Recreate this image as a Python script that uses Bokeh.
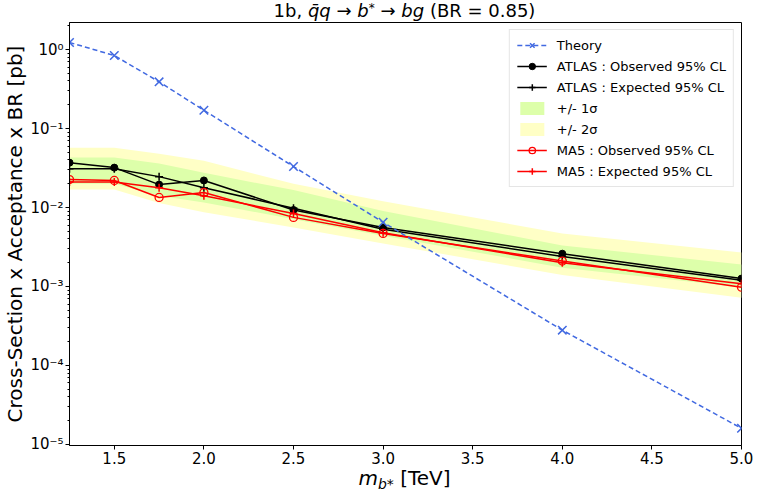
from bokeh.plotting import figure
from bokeh.models import (FixedTicker, CustomJSTickFormatter, PrintfTickFormatter,
                          Legend, LegendItem, Range1d, Div)
from bokeh.layouts import column
from bokeh.embed import file_html
from bokeh.resources import INLINE

# ---------------- data ----------------
mass = [1.25, 1.5, 1.75, 2.0, 2.5, 3.0, 4.0, 5.0]
theory = [1.23, 0.84, 0.39, 0.17, 0.033, 0.0065, 0.00028, 1.6e-5]
atlas_obs = [0.037, 0.032, 0.0195, 0.022, 0.0093, 0.0056, 0.0026, 0.00126]
atlas_exp = [0.031, 0.031, 0.0246, 0.0178, 0.0098, 0.0053, 0.0024, 0.0012]
band_up2 = [0.057, 0.057, 0.048, 0.039, 0.020, 0.0120, 0.0047, 0.0027]
band_up1 = [0.043, 0.043, 0.036, 0.0275, 0.0166, 0.0090, 0.0033, 0.0019]
band_dn1 = [0.020, 0.020, 0.0141, 0.0116, 0.0071, 0.0044, 0.00173, 0.00098]
band_dn2 = [0.0169, 0.0169, 0.0114, 0.0087, 0.0056, 0.0035, 0.0014, 0.00072]
ma5_obs = [0.0226, 0.022, 0.0134, 0.0155, 0.0075, 0.0047, 0.0021, 0.00098]
ma5_exp = [0.021, 0.021, 0.0178, 0.0141, 0.0084, 0.0048, 0.0020, 0.00108]

x_ticks = [1.5, 2.0, 2.5, 3.0, 3.5, 4.0, 4.5, 5.0]
y_ticks = [1e-5, 1e-4, 1e-3, 1e-2, 1e-1, 1.0]

legend_labels = ["Theory", "ATLAS : Observed 95% CL", "ATLAS : Expected 95% CL",
                 "+/- 1σ", "+/- 2σ", "MA5 : Observed 95% CL", "MA5 : Expected 95% CL"]

title_html = ("1b, <i>q\u0304q</i> \u2192 <i>b</i>"
              "<span style='position:relative; top:-5px; font-size:12px; line-height:0'>*</span>"
              " \u2192 <i>bg</i> (BR = 0.85)")
xlabel_html = ("<i>m</i><span style='position:relative; top:4px; font-size:14px; line-height:0'>"
               "<i>b*</i></span> [TeV]")
ylabel = "Cross-Section x Acceptance x BR [pb]"

# ---------------- layout ----------------
W, H = 758, 499
FL, FR = 68, 741          # frame left/right in page px
TITLE_H = 22              # frame top at page y=22
PLOT_H = 447              # frame bottom at page y=445 (+24 px of tick labels)
XLAB_H = H - TITLE_H - PLOT_H
FONT = "DejaVu Sans"
BLUE = "#4169E1"
GREEN = "#DDFFAA"
YELLOW = "#FFFFC6"

p = figure(width=W, height=PLOT_H, y_axis_type="log", title=None,
           x_range=Range1d(1.25, 5.0), y_range=Range1d(9.7e-6, 2.2),
           output_backend="svg", toolbar_location=None,
           min_border_left=FL, min_border_right=W - FR,
           min_border_top=0, min_border_bottom=24)
p.xgrid.visible = False
p.ygrid.visible = False
p.outline_line_color = "black"
p.outline_line_width = 1
p.background_fill_color = "white"
p.border_fill_color = "white"

# axes
xa = p.xaxis[0]
xa.ticker = FixedTicker(ticks=x_ticks)
xa.formatter = PrintfTickFormatter(format="%.1f")
xa.minor_tick_line_color = None
xa.major_tick_out = 4
xa.major_tick_in = 0
xa.major_label_standoff = 2
xa.major_label_text_font = FONT
xa.major_label_text_font_size = "15px"
xa.major_label_text_color = "black"
xa.axis_line_color = "black"
xa.major_tick_line_color = "black"

minor = [k * 10.0 ** e for e in range(-6, 1) for k in range(2, 10)]
minor = [v for v in minor if 9.7e-6 <= v <= 2.2]
ya = p.yaxis[0]
ya.ticker = FixedTicker(ticks=y_ticks, minor_ticks=minor)
ya.formatter = CustomJSTickFormatter(code="""
const e = Math.round(Math.log10(tick));
const sup = {'-':'\u207b','0':'\u2070','1':'\u00b9','2':'\u00b2','3':'\u00b3','4':'\u2074',
             '5':'\u2075','6':'\u2076','7':'\u2077','8':'\u2078','9':'\u2079'};
return '10' + String(e).split('').map(c => sup[c]).join('');
""")
ya.major_tick_out = 4
ya.major_tick_in = 0
ya.minor_tick_out = 2
ya.minor_tick_in = 0
ya.major_label_standoff = 2
ya.major_label_text_font = FONT
ya.major_label_text_font_size = "15px"
ya.major_label_text_color = "black"
ya.axis_line_color = "black"
ya.major_tick_line_color = "black"
ya.minor_tick_line_color = "black"
ya.axis_label = ylabel
ya.axis_label_text_font = FONT
ya.axis_label_text_font_size = "20px"
ya.axis_label_text_font_style = "normal"
ya.axis_label_text_color = "black"
ya.axis_label_standoff = 0

# ---------------- glyphs ----------------
r_y = p.varea(x=mass, y1=band_dn2, y2=band_up2, fill_color=YELLOW)
r_g = p.varea(x=mass, y1=band_dn1, y2=band_up1, fill_color=GREEN)

r_ao_l = p.line(mass, atlas_obs, line_color="black", line_width=1.5)
r_ao_s = p.scatter(mass, atlas_obs, marker="circle", size=7, fill_color="black", line_color="black")
r_ae_l = p.line(mass, atlas_exp, line_color="black", line_width=1.5)
r_ae_s = p.scatter(mass, atlas_exp, marker="cross", size=8, line_color="black", line_width=1.5)

r_mo_l = p.line(mass, ma5_obs, line_color="red", line_width=1.5)
r_mo_s = p.scatter(mass, ma5_obs, marker="circle", size=8, fill_color=None, line_color="red", line_width=1.3)
r_me_l = p.line(mass, ma5_exp, line_color="red", line_width=1.5)
r_me_s = p.scatter(mass, ma5_exp, marker="cross", size=8, line_color="red", line_width=1.5)

r_t_l = p.line(mass, theory, line_color=BLUE, line_width=1.5, line_dash="5 3")
r_t_s = p.scatter(mass, theory, marker="x", size=12, line_color=BLUE, line_width=1.5)

legend = Legend(items=[
    LegendItem(label=legend_labels[0], renderers=[r_t_l, r_t_s]),
    LegendItem(label=legend_labels[1], renderers=[r_ao_l, r_ao_s]),
    LegendItem(label=legend_labels[2], renderers=[r_ae_l, r_ae_s]),
    LegendItem(label=legend_labels[3], renderers=[r_g]),
    LegendItem(label=legend_labels[4], renderers=[r_y]),
    LegendItem(label=legend_labels[5], renderers=[r_mo_l, r_mo_s]),
    LegendItem(label=legend_labels[6], renderers=[r_me_l, r_me_s]),
], location="top_right")
legend.label_text_font = FONT
legend.label_text_font_size = "13px"
legend.label_text_color = "black"
legend.glyph_width = 30
legend.glyph_height = 16
legend.label_height = 16
legend.spacing = 5
legend.padding = 7
legend.margin = 7
legend.label_standoff = 10
legend.border_line_color = "#cccccc"
legend.border_line_width = 1
legend.background_fill_alpha = 0.85
p.add_layout(legend)

# ---------------- title and x label as text blocks ----------------
base_style = f"font-family:'{FONT}'; color:black; white-space:nowrap; text-align:center;"
title_div = Div(
    text=f"<div style=\"{base_style} width:{FR - FL}px; margin-left:{FL}px; "
         f"font-size:18px; line-height:22px;\">{title_html}</div>",
    width=W, height=TITLE_H, margin=(0, 0, 0, 0))
xlabel_div = Div(
    text=f"<div style=\"{base_style} width:{FR - FL}px; margin-left:{FL}px; "
         f"font-size:20px; line-height:18px;\">{xlabel_html}</div>",
    width=W, height=XLAB_H, margin=(0, 0, 0, 0))

layout = column(title_div, p, xlabel_div, spacing=0, width=W, height=H)

open("out.html", "w").write(file_html(layout, INLINE))
